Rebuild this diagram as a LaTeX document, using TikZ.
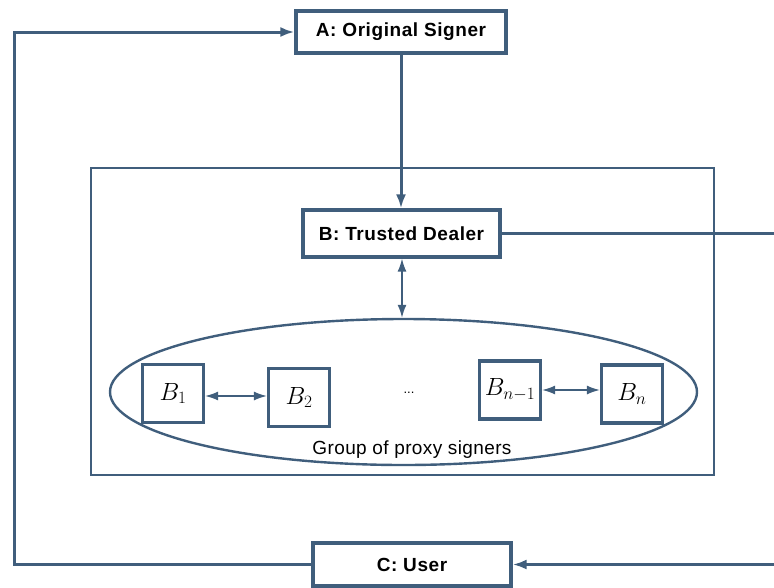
\documentclass[tikz,border=0pt]{standalone}
\usepackage{fontspec}
\setmainfont{Liberation Sans}
\newfontfamily\partyfont[LetterSpace=3]{Liberation Sans}
\newfontfamily\groupfont[LetterSpace=2]{Liberation Sans}
\usetikzlibrary{arrows.meta,shapes.geometric}
\definecolor{ink}{RGB}{64,94,124}
\begin{document}
\begin{tikzpicture}[x=1pt,y=-1pt,
  party/.style={draw=ink,line width=3.2pt,fill=white,inner sep=0pt,
    font=\partyfont\fontsize{19}{22}\selectfont\bfseries},
  member/.style={draw=ink,line width=3.2pt,fill=white,inner sep=0pt,
    minimum width=61pt,minimum height=58pt,font=\fontsize{25}{28}\selectfont},
  wire/.style={draw=ink,line width=3pt},
  thinwire/.style={draw=ink,line width=1.6pt},
  tip/.style={-{Latex[length=14pt,width=10pt]}},
  twotip/.style={{Latex[length=13pt,width=9pt]}-{Latex[length=13pt,width=9pt]}}
]
\useasboundingbox (0,0) rectangle (774,587);

% outer frame around the dealer and the proxy group
\draw[draw=ink,line width=2pt] (91,168) rectangle (714,475);

% the three parties
\node[party,minimum width=210pt,minimum height=42pt] (A) at (401,32) {A: Original Signer};
\node[party,minimum width=197pt,minimum height=47pt] (B) at (401.5,233.5) {B: Trusted Dealer};
\node[party,minimum width=198pt,minimum height=43pt] (C) at (412,564.5) {C: User};

% group of proxy signers
\node[ellipse,draw=ink,line width=2.4pt,minimum width=587pt,minimum height=146pt,inner sep=0pt]
  (G) at (403.5,392) {};
\node[font=\groupfont\fontsize{19}{22}\selectfont] (Glabel) at (412,450) {Group of proxy signers};

\node[member] (B1) at (173,393.5) {$B_1$};
\node[member] (B2) at (299,397.5) {$B_2$};
\node[member] (Bm) at (510,390) {$B_{n-1}$};
\node[member] (Bn) at (632,394) {$B_n$};
\node[font=\fontsize{13}{15}\selectfont] (dots) at (409,393) {...};

% free ends at the right border
\coordinate (Rtop) at (774,233.5);
\coordinate (Rbot) at (774,564.5);
\coordinate (LL) at (14,564.5);
\coordinate (LU) at (14,32);

% connectors
\draw[wire,tip] (A.south -| 401,0) -- (B.north -| 401,0);
\draw[thinwire,twotip] (B.south -| 402,0) -- (G.north -| 402,0);
\draw[wire] (B.east) -- (Rtop);
\draw[wire,tip] (Rbot) -- (C.east);
\draw[wire,tip] (C.west) -- (LL) -- (LU) -- (A.west);
\draw[thinwire,twotip] (B1.east |- 0,396) -- (B2.west |- 0,396);
\draw[thinwire,twotip] (Bm.east |- 0,390) -- (Bn.west |- 0,390);
\end{tikzpicture}
\end{document}
